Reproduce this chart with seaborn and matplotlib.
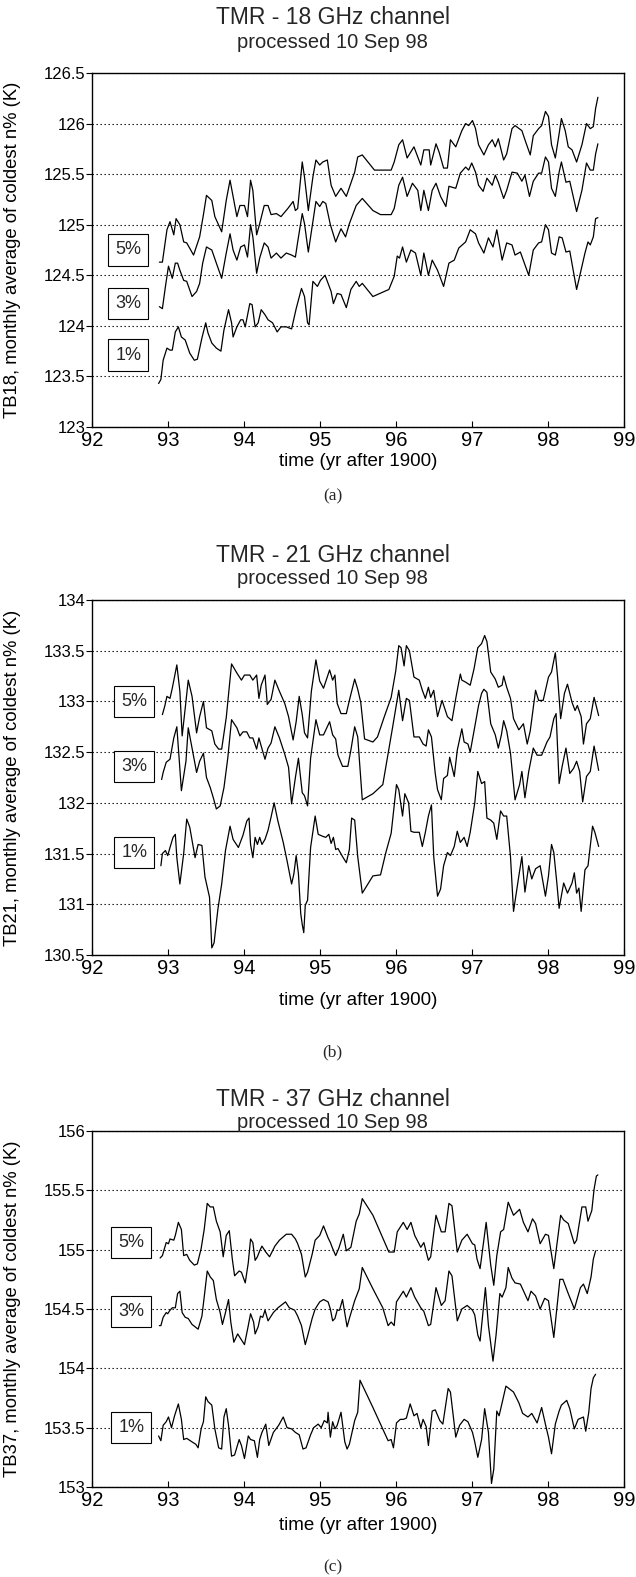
import matplotlib
matplotlib.use("Agg")
import matplotlib.pyplot as plt
import seaborn as sns

# ---- panel (a): TMR 18 GHz ----
a5_t = [92.88, 92.92, 92.98, 93.02, 93.07, 93.10, 93.15, 93.20, 93.24, 93.33,
        93.41, 93.46, 93.50, 93.57, 93.61, 93.70, 93.76, 93.81, 93.85, 93.90,
        93.94, 94.00, 94.04, 94.08, 94.11, 94.16, 94.20, 94.26, 94.31, 94.35,
        94.42, 94.48, 94.57, 94.64, 94.67, 94.70, 94.76, 94.79, 94.84, 94.90,
        94.94, 94.99, 95.03, 95.09, 95.14, 95.20, 95.27, 95.34, 95.45, 95.49,
        95.55, 95.71, 95.93, 95.97, 96.03, 96.08, 96.14, 96.23, 96.32, 96.36,
        96.43, 96.45, 96.52, 96.56, 96.62, 96.67, 96.71, 96.78, 96.86, 96.91,
        96.95, 97.00, 97.04, 97.08, 97.15, 97.21, 97.26, 97.30, 97.34, 97.41,
        97.45, 97.52, 97.56, 97.65, 97.69, 97.76, 97.80, 97.87, 97.91, 97.96,
        98.00, 98.04, 98.09, 98.14, 98.17, 98.22, 98.26, 98.31, 98.37, 98.44,
        98.50, 98.55, 98.59, 98.62, 98.65]
a5_v = [124.63, 124.63, 124.95, 125.03, 124.90, 125.06, 125.00, 124.83, 124.82, 124.70,
        124.88, 125.10, 125.29, 125.24, 125.08, 124.93, 125.24, 125.44, 125.28, 125.08,
        125.19, 125.19, 125.08, 125.44, 125.34, 124.90, 125.01, 125.19, 125.19, 125.10,
        125.11, 125.08, 125.16, 125.23, 125.14, 125.16, 125.62, 125.47, 125.14, 125.47,
        125.64, 125.59, 125.62, 125.64, 125.39, 125.28, 125.36, 125.28, 125.52, 125.67,
        125.69, 125.54, 125.54, 125.62, 125.79, 125.84, 125.66, 125.77, 125.59, 125.74,
        125.74, 125.59, 125.80, 125.72, 125.56, 125.56, 125.84, 125.77, 125.93, 126.00,
        125.98, 126.03, 125.95, 125.79, 125.69, 125.79, 125.84, 125.77, 125.85, 125.64,
        125.70, 125.95, 125.98, 125.93, 125.84, 125.69, 125.88, 125.95, 125.98, 126.12,
        126.07, 125.79, 125.66, 125.90, 126.05, 125.93, 125.77, 125.74, 125.62, 125.79,
        126.00, 125.95, 125.97, 126.15, 126.26]

a3_t = [92.88, 92.92, 92.96, 93.00, 93.05, 93.09, 93.12, 93.15, 93.20, 93.24,
        93.31, 93.37, 93.41, 93.45, 93.50, 93.57, 93.63, 93.70, 93.76, 93.81,
        93.85, 93.90, 93.95, 94.00, 94.04, 94.08, 94.11, 94.16, 94.20, 94.26,
        94.31, 94.35, 94.42, 94.48, 94.55, 94.62, 94.67, 94.70, 94.76, 94.79,
        94.84, 94.90, 94.94, 94.99, 95.03, 95.07, 95.13, 95.20, 95.27, 95.33,
        95.38, 95.47, 95.55, 95.69, 95.79, 95.93, 95.97, 96.03, 96.08, 96.14,
        96.21, 96.28, 96.32, 96.36, 96.42, 96.47, 96.52, 96.58, 96.65, 96.69,
        96.78, 96.84, 96.91, 96.95, 96.99, 97.04, 97.08, 97.14, 97.19, 97.26,
        97.30, 97.34, 97.41, 97.45, 97.52, 97.59, 97.65, 97.69, 97.75, 97.80,
        97.87, 97.91, 97.96, 98.00, 98.04, 98.09, 98.14, 98.17, 98.23, 98.28,
        98.37, 98.44, 98.50, 98.55, 98.59, 98.62, 98.65]
a3_v = [124.19, 124.17, 124.39, 124.59, 124.47, 124.62, 124.62, 124.55, 124.45, 124.44,
        124.29, 124.34, 124.42, 124.62, 124.78, 124.75, 124.62, 124.47, 124.72, 124.91,
        124.75, 124.65, 124.78, 124.80, 124.68, 125.00, 124.88, 124.52, 124.67, 124.82,
        124.78, 124.67, 124.72, 124.67, 124.72, 124.70, 124.68, 124.83, 125.11, 125.01,
        124.73, 125.03, 125.23, 125.18, 125.23, 125.21, 125.00, 124.83, 124.96, 124.88,
        125.01, 125.19, 125.26, 125.14, 125.10, 125.10, 125.16, 125.39, 125.47, 125.28,
        125.41, 125.34, 125.14, 125.34, 125.14, 125.34, 125.41, 125.28, 125.18, 125.38,
        125.36, 125.51, 125.57, 125.54, 125.61, 125.52, 125.39, 125.33, 125.46, 125.39,
        125.49, 125.42, 125.26, 125.34, 125.52, 125.51, 125.43, 125.49, 125.28, 125.43,
        125.51, 125.51, 125.67, 125.62, 125.36, 125.28, 125.52, 125.62, 125.42, 125.43,
        125.13, 125.34, 125.61, 125.54, 125.54, 125.70, 125.80]

a1_t = [92.87, 92.90, 92.93, 92.98, 93.02, 93.05, 93.09, 93.13, 93.17, 93.22,
        93.28, 93.34, 93.38, 93.44, 93.49, 93.52, 93.57, 93.63, 93.69, 93.73,
        93.79, 93.83, 93.85, 93.90, 93.95, 93.98, 94.01, 94.07, 94.10, 94.14,
        94.18, 94.22, 94.27, 94.31, 94.37, 94.43, 94.48, 94.55, 94.62, 94.68,
        94.75, 94.79, 94.83, 94.85, 94.90, 94.96, 95.00, 95.06, 95.10, 95.14,
        95.17, 95.22, 95.27, 95.34, 95.40, 95.47, 95.51, 95.55, 95.69, 95.90,
        95.97, 96.01, 96.04, 96.08, 96.13, 96.19, 96.25, 96.32, 96.36, 96.42,
        96.47, 96.54, 96.62, 96.69, 96.76, 96.82, 96.91, 96.97, 97.04, 97.08,
        97.15, 97.21, 97.27, 97.32, 97.39, 97.45, 97.52, 97.56, 97.63, 97.74,
        97.80, 97.87, 97.91, 97.96, 98.00, 98.04, 98.09, 98.14, 98.18, 98.23,
        98.28, 98.37, 98.41, 98.48, 98.52, 98.55, 98.59, 98.62, 98.65]
a1_v = [123.43, 123.47, 123.66, 123.78, 123.76, 123.76, 123.94, 123.99, 123.89, 123.86,
        123.73, 123.66, 123.67, 123.88, 124.03, 123.93, 123.83, 123.78, 123.75, 123.96,
        124.16, 124.03, 123.89, 123.99, 124.06, 124.06, 123.99, 124.22, 124.21, 123.99,
        124.03, 124.16, 124.11, 124.06, 124.03, 123.94, 123.99, 123.99, 123.97, 124.17,
        124.37, 124.29, 124.03, 124.01, 124.44, 124.39, 124.45, 124.50, 124.42, 124.34,
        124.22, 124.32, 124.31, 124.18, 124.36, 124.44, 124.39, 124.42, 124.29, 124.36,
        124.49, 124.69, 124.67, 124.78, 124.63, 124.75, 124.72, 124.50, 124.72, 124.50,
        124.65, 124.55, 124.39, 124.62, 124.65, 124.77, 124.83, 124.95, 124.91, 124.82,
        124.72, 124.87, 124.78, 124.95, 124.65, 124.82, 124.80, 124.70, 124.73, 124.50,
        124.75, 124.82, 124.83, 125.00, 124.95, 124.72, 124.70, 124.88, 124.87, 124.73,
        124.74, 124.36, 124.49, 124.72, 124.83, 124.80, 124.88, 125.06, 125.07]

# ---- panel (b): TMR 21 GHz ----
b5_t = [92.92, 92.95, 92.98, 93.02, 93.05, 93.11, 93.15, 93.18, 93.23, 93.26,
        93.31, 93.37, 93.41, 93.46, 93.50, 93.57, 93.61, 93.66, 93.70, 93.76,
        93.83, 93.90, 93.96, 94.00, 94.07, 94.11, 94.16, 94.19, 94.22, 94.27,
        94.30, 94.35, 94.40, 94.46, 94.53, 94.58, 94.64, 94.68, 94.72, 94.76,
        94.79, 94.83, 94.88, 94.94, 94.99, 95.04, 95.12, 95.16, 95.19, 95.22,
        95.27, 95.34, 95.38, 95.45, 95.49, 95.53, 95.58, 95.69, 95.75, 95.84,
        95.93, 95.99, 96.03, 96.06, 96.10, 96.13, 96.17, 96.23, 96.30, 96.34,
        96.38, 96.42, 96.45, 96.49, 96.54, 96.60, 96.67, 96.73, 96.78, 96.84,
        96.86, 96.91, 96.97, 97.02, 97.07, 97.12, 97.16, 97.19, 97.24, 97.30,
        97.34, 97.39, 97.41, 97.45, 97.50, 97.54, 97.61, 97.67, 97.72, 97.76,
        97.83, 97.87, 97.93, 98.00, 98.04, 98.09, 98.12, 98.16, 98.21, 98.25,
        98.31, 98.35, 98.38, 98.43, 98.46, 98.50, 98.55, 98.60, 98.66]
b5_v = [132.87, 132.95, 133.05, 133.03, 133.13, 133.36, 133.10, 132.66, 133.00, 133.21,
        133.05, 132.69, 132.85, 133.00, 132.74, 132.71, 132.58, 132.53, 132.53, 132.84,
        133.37, 133.28, 133.21, 133.26, 133.26, 133.21, 133.26, 133.03, 133.16, 133.26,
        132.97, 133.02, 133.21, 133.10, 132.98, 132.85, 132.62, 132.80, 133.05, 132.87,
        132.69, 132.64, 133.10, 133.41, 133.20, 133.13, 133.31, 133.21, 133.26, 132.98,
        132.88, 132.88, 133.01, 133.22, 133.12, 132.99, 132.63, 132.60, 132.65, 132.85,
        133.04, 133.30, 133.55, 133.53, 133.35, 133.55, 133.50, 133.24, 133.21, 133.11,
        133.03, 133.14, 133.04, 133.11, 132.85, 133.01, 132.85, 132.81, 133.03, 133.27,
        133.21, 133.19, 133.16, 133.32, 133.53, 133.57, 133.65, 133.59, 133.29, 133.22,
        133.14, 133.16, 133.25, 133.14, 133.03, 132.83, 132.72, 132.78, 132.58, 132.71,
        133.11, 133.01, 133.01, 133.24, 133.29, 133.48, 133.24, 132.83, 133.08, 133.17,
        132.99, 132.91, 132.96, 132.85, 132.58, 132.78, 132.83, 133.04, 132.86]

b3_t = [92.91, 92.93, 92.97, 93.02, 93.07, 93.11, 93.14, 93.17, 93.23, 93.26,
        93.31, 93.37, 93.41, 93.46, 93.50, 93.55, 93.59, 93.63, 93.68, 93.73,
        93.78, 93.83, 93.90, 93.94, 93.98, 94.03, 94.07, 94.11, 94.16, 94.19,
        94.22, 94.27, 94.31, 94.35, 94.40, 94.46, 94.53, 94.58, 94.62, 94.67,
        94.71, 94.76, 94.79, 94.83, 94.87, 94.94, 94.99, 95.04, 95.12, 95.16,
        95.20, 95.23, 95.29, 95.36, 95.40, 95.45, 95.49, 95.55, 95.69, 95.82,
        95.95, 96.03, 96.08, 96.13, 96.17, 96.23, 96.30, 96.35, 96.39, 96.42,
        96.46, 96.51, 96.54, 96.59, 96.62, 96.67, 96.70, 96.76, 96.80, 96.86,
        96.89, 96.94, 96.97, 97.03, 97.08, 97.12, 97.15, 97.19, 97.24, 97.30,
        97.34, 97.38, 97.41, 97.45, 97.50, 97.56, 97.62, 97.65, 97.69, 97.74,
        97.80, 97.85, 97.91, 97.98, 98.02, 98.07, 98.10, 98.14, 98.18, 98.23,
        98.28, 98.33, 98.37, 98.41, 98.45, 98.50, 98.55, 98.60, 98.66]
b3_v = [132.23, 132.30, 132.40, 132.43, 132.64, 132.75, 132.44, 132.12, 132.41, 132.74,
        132.54, 132.30, 132.41, 132.49, 132.25, 132.15, 132.05, 131.94, 131.97, 132.15,
        132.44, 132.82, 132.74, 132.66, 132.70, 132.70, 132.64, 132.64, 132.53, 132.64,
        132.56, 132.43, 132.54, 132.59, 132.75, 132.64, 132.48, 132.35, 131.99, 132.25,
        132.44, 132.10, 132.07, 131.97, 132.44, 132.82, 132.67, 132.67, 132.80, 132.67,
        132.63, 132.47, 132.36, 132.36, 132.52, 132.75, 132.65, 132.03, 132.09, 132.18,
        132.75, 133.11, 132.81, 133.03, 133.01, 132.65, 132.65, 132.58, 132.56, 132.72,
        132.65, 132.29, 132.13, 132.03, 132.24, 132.27, 132.45, 132.26, 132.52, 132.73,
        132.60, 132.58, 132.50, 132.75, 132.96, 133.08, 133.12, 133.09, 132.78, 132.67,
        132.54, 132.67, 132.81, 132.71, 132.49, 132.03, 132.18, 132.31, 132.05, 132.31,
        132.54, 132.47, 132.47, 132.60, 132.65, 132.83, 132.88, 132.19, 132.36, 132.54,
        132.29, 132.34, 132.41, 132.31, 132.01, 132.26, 132.31, 132.56, 132.32]

b1_t = [92.90, 92.92, 92.96, 92.99, 93.02, 93.06, 93.09, 93.11, 93.15, 93.20,
        93.24, 93.28, 93.35, 93.39, 93.44, 93.48, 93.54, 93.57, 93.60, 93.65,
        93.70, 93.75, 93.81, 93.85, 93.92, 93.98, 94.03, 94.06, 94.08, 94.11,
        94.14, 94.17, 94.20, 94.23, 94.27, 94.31, 94.35, 94.39, 94.44, 94.51,
        94.56, 94.62, 94.65, 94.68, 94.71, 94.74, 94.76, 94.78, 94.80, 94.83,
        94.87, 94.93, 94.97, 95.03, 95.07, 95.11, 95.14, 95.17, 95.20, 95.23,
        95.26, 95.29, 95.34, 95.38, 95.41, 95.45, 95.49, 95.55, 95.69, 95.79,
        95.86, 95.93, 96.00, 96.03, 96.08, 96.11, 96.16, 96.19, 96.23, 96.30,
        96.34, 96.38, 96.42, 96.46, 96.49, 96.54, 96.58, 96.62, 96.67, 96.71,
        96.76, 96.80, 96.84, 96.89, 96.93, 96.97, 97.03, 97.07, 97.12, 97.16,
        97.19, 97.24, 97.28, 97.32, 97.37, 97.41, 97.45, 97.50, 97.54, 97.61,
        97.65, 97.69, 97.74, 97.78, 97.83, 97.89, 97.96, 98.00, 98.04, 98.07,
        98.11, 98.14, 98.20, 98.25, 98.31, 98.34, 98.37, 98.40, 98.43, 98.48,
        98.52, 98.58, 98.61, 98.66]
b1_v = [131.38, 131.50, 131.53, 131.48, 131.56, 131.66, 131.69, 131.46, 131.20, 131.50,
        131.84, 131.76, 131.46, 131.59, 131.58, 131.27, 131.07, 130.57, 130.62, 130.95,
        131.20, 131.53, 131.77, 131.64, 131.56, 131.68, 131.82, 131.85, 131.59, 131.46,
        131.66, 131.59, 131.66, 131.59, 131.64, 131.73, 131.86, 132.00, 131.82, 131.61,
        131.43, 131.20, 131.30, 131.48, 131.30, 130.91, 130.80, 130.72, 130.99, 131.04,
        131.56, 131.87, 131.69, 131.67, 131.66, 131.69, 131.60, 131.66, 131.54, 131.55,
        131.51, 131.47, 131.41, 131.54, 131.85, 131.83, 131.47, 131.11, 131.28, 131.29,
        131.51, 131.70, 132.18, 132.13, 131.87, 132.09, 132.00, 131.72, 131.71, 131.71,
        131.57, 131.71, 131.87, 131.98, 131.47, 131.08, 131.15, 131.38, 131.51, 131.48,
        131.57, 131.72, 131.61, 131.66, 131.57, 131.71, 132.00, 132.31, 132.19, 132.21,
        131.85, 131.83, 131.80, 131.64, 131.92, 131.87, 131.87, 131.47, 130.93, 131.28,
        131.47, 131.12, 131.38, 131.25, 131.35, 131.38, 131.08, 131.28, 131.59, 131.51,
        131.21, 130.96, 131.21, 131.11, 131.21, 131.31, 131.11, 131.16, 130.93, 131.34,
        131.38, 131.77, 131.71, 131.57]

# ---- panel (c): TMR 37 GHz ----
c5_t = [92.89, 92.92, 92.97, 93.00, 93.02, 93.07, 93.09, 93.13, 93.17, 93.20,
        93.24, 93.28, 93.34, 93.38, 93.43, 93.47, 93.51, 93.55, 93.59, 93.63,
        93.68, 93.72, 93.76, 93.80, 93.84, 93.87, 93.93, 93.96, 94.01, 94.05,
        94.08, 94.11, 94.14, 94.17, 94.20, 94.23, 94.28, 94.33, 94.40, 94.46,
        94.55, 94.62, 94.67, 94.70, 94.75, 94.80, 94.83, 94.89, 94.93, 94.99,
        95.04, 95.10, 95.13, 95.16, 95.20, 95.24, 95.30, 95.34, 95.40, 95.47,
        95.51, 95.55, 95.69, 95.90, 95.97, 96.01, 96.09, 96.14, 96.19, 96.24,
        96.32, 96.36, 96.42, 96.45, 96.52, 96.59, 96.64, 96.69, 96.73, 96.80,
        96.86, 96.93, 97.00, 97.03, 97.06, 97.10, 97.18, 97.24, 97.28, 97.32,
        97.37, 97.41, 97.47, 97.54, 97.62, 97.67, 97.73, 97.79, 97.83, 97.89,
        97.96, 98.00, 98.07, 98.16, 98.20, 98.26, 98.34, 98.37, 98.44, 98.49,
        98.52, 98.57, 98.60, 98.63, 98.65]
c5_v = [154.93, 154.95, 155.06, 155.05, 155.09, 155.08, 155.12, 155.23, 155.17, 154.95,
        154.96, 154.91, 154.87, 154.88, 155.01, 155.17, 155.39, 155.36, 155.36, 155.24,
        155.15, 154.94, 155.12, 155.16, 154.92, 154.78, 154.82, 154.81, 154.72, 154.89,
        155.09, 155.06, 154.91, 154.94, 154.99, 155.03, 154.98, 154.94, 155.03, 155.08,
        155.13, 155.13, 155.09, 155.05, 154.96, 154.77, 154.81, 154.96, 155.08, 155.12,
        155.20, 155.10, 155.06, 155.01, 154.95, 155.01, 155.13, 154.99, 155.02, 155.24,
        155.30, 155.43, 155.29, 154.98, 154.98, 155.15, 155.23, 155.17, 155.23, 155.12,
        155.02, 155.06, 154.91, 154.94, 155.29, 155.15, 155.15, 155.39, 155.37, 154.98,
        155.08, 155.13, 155.05, 155.04, 154.92, 154.84, 155.23, 154.87, 154.70, 154.95,
        155.15, 155.17, 155.40, 155.29, 155.34, 155.23, 155.15, 155.26, 155.22, 155.05,
        155.13, 155.12, 154.84, 155.29, 155.25, 155.22, 155.05, 155.08, 155.36, 155.36,
        155.24, 155.33, 155.51, 155.62, 155.63]

c3_t = [92.88, 92.90, 92.93, 92.97, 92.99, 93.02, 93.05, 93.09, 93.12, 93.15,
        93.18, 93.22, 93.26, 93.31, 93.39, 93.44, 93.47, 93.51, 93.55, 93.59,
        93.63, 93.68, 93.71, 93.75, 93.79, 93.82, 93.86, 93.91, 93.95, 94.00,
        94.05, 94.08, 94.12, 94.14, 94.18, 94.21, 94.24, 94.27, 94.31, 94.38,
        94.44, 94.54, 94.59, 94.66, 94.70, 94.75, 94.80, 94.83, 94.89, 94.93,
        94.99, 95.04, 95.10, 95.13, 95.16, 95.19, 95.22, 95.25, 95.29, 95.35,
        95.38, 95.45, 95.51, 95.55, 95.69, 95.82, 95.89, 95.93, 95.97, 96.00,
        96.09, 96.13, 96.19, 96.24, 96.32, 96.36, 96.42, 96.45, 96.52, 96.59,
        96.64, 96.69, 96.73, 96.80, 96.86, 96.93, 97.00, 97.03, 97.07, 97.10,
        97.17, 97.21, 97.27, 97.31, 97.36, 97.39, 97.44, 97.47, 97.52, 97.56,
        97.63, 97.68, 97.73, 97.77, 97.83, 97.89, 97.95, 98.00, 98.07, 98.15,
        98.19, 98.26, 98.31, 98.34, 98.42, 98.46, 98.51, 98.56, 98.59, 98.62]
c3_v = [154.36, 154.36, 154.43, 154.47, 154.46, 154.49, 154.51, 154.51, 154.63, 154.65,
        154.47, 154.43, 154.42, 154.37, 154.33, 154.44, 154.60, 154.82, 154.77, 154.74,
        154.58, 154.47, 154.37, 154.47, 154.58, 154.39, 154.22, 154.29, 154.25, 154.20,
        154.36, 154.46, 154.39, 154.29, 154.35, 154.44, 154.43, 154.49, 154.40, 154.47,
        154.51, 154.56, 154.51, 154.49, 154.44, 154.36, 154.20, 154.27, 154.42, 154.50,
        154.56, 154.58, 154.56, 154.50, 154.40, 154.42, 154.49, 154.49, 154.58, 154.35,
        154.42, 154.57, 154.67, 154.85, 154.67, 154.51, 154.36, 154.39, 154.36, 154.56,
        154.65, 154.60, 154.68, 154.60, 154.51, 154.48, 154.36, 154.37, 154.68, 154.53,
        154.57, 154.82, 154.78, 154.40, 154.50, 154.53, 154.49, 154.45, 154.28, 154.23,
        154.68, 154.36, 154.06, 154.28, 154.63, 154.60, 154.68, 154.85, 154.76, 154.72,
        154.71, 154.64, 154.57, 154.65, 154.61, 154.50, 154.59, 154.57, 154.26, 154.75,
        154.75, 154.63, 154.55, 154.50, 154.68, 154.71, 154.63, 154.77, 154.92, 154.99]

c1_t = [92.87, 92.90, 92.93, 92.97, 93.00, 93.04, 93.08, 93.13, 93.17, 93.20,
        93.24, 93.31, 93.36, 93.39, 93.43, 93.46, 93.49, 93.52, 93.57, 93.61,
        93.66, 93.70, 93.73, 93.76, 93.79, 93.83, 93.87, 93.93, 93.96, 94.00,
        94.05, 94.08, 94.13, 94.17, 94.20, 94.23, 94.28, 94.32, 94.38, 94.45,
        94.51, 94.56, 94.62, 94.67, 94.72, 94.77, 94.81, 94.87, 94.91, 94.97,
        95.01, 95.05, 95.09, 95.10, 95.13, 95.16, 95.19, 95.22, 95.27, 95.32,
        95.35, 95.38, 95.45, 95.49, 95.52, 95.69, 95.89, 95.93, 95.96, 96.00,
        96.05, 96.09, 96.13, 96.18, 96.23, 96.27, 96.32, 96.35, 96.39, 96.42,
        96.47, 96.51, 96.57, 96.61, 96.68, 96.71, 96.78, 96.83, 96.89, 96.94,
        97.00, 97.03, 97.07, 97.12, 97.16, 97.21, 97.25, 97.28, 97.32, 97.35,
        97.39, 97.44, 97.50, 97.54, 97.61, 97.66, 97.73, 97.78, 97.85, 97.91,
        97.97, 98.00, 98.04, 98.09, 98.14, 98.17, 98.24, 98.28, 98.34, 98.39,
        98.46, 98.49, 98.53, 98.56, 98.59, 98.62]
c1_v = [153.43, 153.39, 153.52, 153.55, 153.59, 153.50, 153.60, 153.70, 153.57, 153.40,
        153.41, 153.38, 153.36, 153.33, 153.49, 153.55, 153.76, 153.72, 153.69, 153.49,
        153.33, 153.32, 153.59, 153.66, 153.52, 153.26, 153.27, 153.40, 153.35, 153.24,
        153.43, 153.40, 153.39, 153.25, 153.40, 153.46, 153.53, 153.35, 153.46, 153.52,
        153.59, 153.50, 153.49, 153.46, 153.44, 153.32, 153.33, 153.44, 153.50, 153.53,
        153.50, 153.56, 153.54, 153.63, 153.42, 153.55, 153.49, 153.52, 153.63, 153.38,
        153.32, 153.36, 153.56, 153.63, 153.90, 153.67, 153.39, 153.40, 153.33, 153.54,
        153.57, 153.57, 153.58, 153.70, 153.60, 153.62, 153.50, 153.57, 153.51, 153.35,
        153.64, 153.65, 153.56, 153.53, 153.83, 153.80, 153.42, 153.52, 153.57, 153.55,
        153.46, 153.38, 153.25, 153.40, 153.66, 153.46, 153.03, 153.15, 153.64, 153.60,
        153.71, 153.85, 153.82, 153.80, 153.71, 153.62, 153.59, 153.62, 153.54, 153.67,
        153.50, 153.42, 153.28, 153.53, 153.64, 153.69, 153.73, 153.66, 153.49, 153.57,
        153.59, 153.47, 153.63, 153.83, 153.92, 153.95]

channels = ["18", "21", "37"]
percent_labels = ["5%", "3%", "1%"]
a_label_y = [124.75, 124.22, 123.71]
b_label_y = [133.00, 132.36, 131.51]
c_label_y = [155.06, 154.48, 153.50]
a_yticks = [123, 123.5, 124, 124.5, 125, 125.5, 126, 126.5]
b_yticks = [130.5, 131, 131.5, 132, 132.5, 133, 133.5, 134]
c_yticks = [153, 153.5, 154, 154.5, 155, 155.5, 156]
x_ticks = [92, 93, 94, 95, 96, 97, 98, 99]

sns.set_theme(style="white")
plt.rcParams["font.family"] = ["Liberation Sans", "DejaVu Sans"]

fig = plt.figure(figsize=(6.36, 15.77), dpi=100)
H = 1577.0

# pixel layout of each panel: axes top/bottom, title, subtitle, xlabel, caption
panels = [
    dict(top=73, bottom=427,
         series=[(a5_t, a5_v), (a3_t, a3_v), (a1_t, a1_v)],
         yticks=a_yticks, label_y=a_label_y, label_x=92.47,
         title_y=18, sub_y=43, xlab_y=461, cap_y=496, cap="(a)"),
    dict(top=600, bottom=955,
         series=[(b5_t, b5_v), (b3_t, b3_v), (b1_t, b1_v)],
         yticks=b_yticks, label_y=b_label_y, label_x=92.55,
         title_y=555, sub_y=578, xlab_y=1001, cap_y=1052, cap="(b)"),
    dict(top=1131, bottom=1487,
         series=[(c5_t, c5_v), (c3_t, c3_v), (c1_t, c1_v)],
         yticks=c_yticks, label_y=c_label_y, label_x=92.51,
         title_y=1100, sub_y=1122, xlab_y=1525, cap_y=1567, cap="(c)"),
]

for ch, p in zip(channels, panels):
    h_px = p["bottom"] - p["top"]
    ax = fig.add_axes([0.1454, 1 - p["bottom"] / H, 0.8365, h_px / H])
    for t, v in p["series"]:
        sns.lineplot(x=t, y=v, ax=ax, color="black", linewidth=0.9,
                     estimator=None, sort=False)

    ax.set_xlim(92, 99)
    ax.set_ylim(p["yticks"][0], p["yticks"][-1])
    ax.set_xticks(x_ticks)
    ax.set_xticklabels([str(x) for x in x_ticks])
    ax.set_yticks(p["yticks"])
    ax.set_yticklabels([f"{y:g}" for y in p["yticks"]])
    ax.grid(axis="y", linestyle=(0, (1.2, 2.4)), color="black", linewidth=0.8)
    ax.grid(axis="x", visible=False)
    for s in ax.spines.values():
        s.set_color("black")
        s.set_linewidth(1.0)
    ax.tick_params(axis="x", direction="in", length=4, width=0.8, pad=3,
                   labelsize=14.5, colors="black", bottom=True)
    ax.tick_params(axis="y", direction="out", length=4, width=0.8, pad=1,
                   labelsize=12, colors="black", left=True)

    ax.set_xlabel("time (yr after 1900)", fontsize=13.5, color="black")
    ax.xaxis.label.set_va("center")
    ax.xaxis.set_label_coords(0.5, -(p["xlab_y"] - p["bottom"]) / h_px)
    ax.set_ylabel(f"TB{ch}, monthly average of coldest n% (K)", fontsize=13.3,
                  color="black")
    ax.yaxis.label.set_va("center")
    ax.yaxis.set_label_coords(-0.151, 0.5)

    for lab, ly in zip(percent_labels, p["label_y"]):
        ax.text(p["label_x"], ly, lab, ha="center", va="center", fontsize=13,
                bbox=dict(boxstyle="square,pad=0.4", fc="white", ec="black",
                          lw=0.8))

    fig.text(0.523, 1 - p["title_y"] / H, f"TMR - {ch} GHz channel",
             ha="center", va="center", fontsize=16.5)
    fig.text(0.523, 1 - p["sub_y"] / H, "processed 10 Sep 98",
             ha="center", va="center", fontsize=14.5)
    fig.text(0.523, 1 - p["cap_y"] / H, p["cap"], ha="center", va="center",
             fontsize=12.5, family=["Liberation Serif", "DejaVu Serif"])

fig.savefig("out.png", dpi=100, facecolor="white")
